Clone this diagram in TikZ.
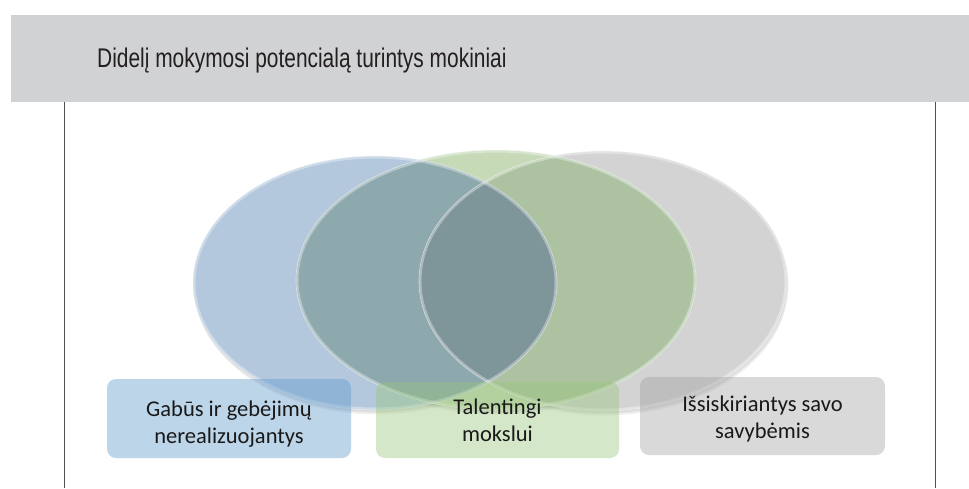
\documentclass[tikz,border=0pt]{standalone}
\usepackage{fontspec}
\setmainfont{Carlito}
\newfontfamily\titlefont[FakeStretch=0.775]{Liberation Sans}
\definecolor{bandgray}{HTML}{D1D2D4}
\definecolor{ellblue}{HTML}{B3C8DD}
\definecolor{ellgreen}{HTML}{C6DAB8}
\definecolor{ellgray}{HTML}{D3D3D3}
\definecolor{ovbg}{HTML}{A9B9C6}
\definecolor{ovgg}{HTML}{ACC2A0}
\definecolor{ovbgn}{HTML}{8EA9AE}
\definecolor{ovtri}{HTML}{7E9599}
\definecolor{boxblue}{HTML}{5A96CA}
\definecolor{boxgreen}{HTML}{96C578}
\definecolor{boxgray}{HTML}{A0A0A0}
\definecolor{linegray}{HTML}{505050}
\definecolor{titlecol}{HTML}{231F20}
\begin{document}
\begin{tikzpicture}[x=1pt,y=-1pt,
  boxstyle/.style={rounded corners=9pt, draw=none, inner sep=0pt, fill opacity=0.4},
  boxtext/.style={align=center, font=\fontsize{22.5}{27}\selectfont, text=black!90, inner sep=0pt},
  rimstyle/.style={white, line width=5pt, opacity=0.35},
  edgestyle/.style={white, line width=0.6pt, opacity=0.55},
  shadowstyle/.style={fill=black, opacity=0.05},
  frameline/.style={linegray, line width=1pt}]
\def\ellB{(375,283) ellipse [x radius=182pt, y radius=127pt]}
\def\ellG{(496,280) ellipse [x radius=200pt, y radius=130pt]}
\def\ellR{(603,281) ellipse [x radius=184pt, y radius=130pt]}
\useasboundingbox (0,0) rectangle (969,488);
\fill[white] (0,0) rectangle (969,488);
% header band
\fill[bandgray] (11,15) rectangle (969,102);
\node[anchor=base west, font=\titlefont\fontsize{27}{30}\selectfont, text=titlecol, inner sep=0pt] (title) at (97,67) {Didelį mokymosi potencialą turintys mokiniai};
% frame lines
\coordinate (lt) at (64,102);
\coordinate (lb) at (64,488);
\coordinate (rt) at (935,102);
\coordinate (rb) at (935,488);
\draw[frameline] (lt) -- (lb);
\draw[frameline] (rt) -- (rb);
% soft shadows
\foreach \dx/\dy in {0.5/1.5,1/3,1.5/4.5}{
  \begin{scope}[shift={(\dx,\dy)}]
    \fill[shadowstyle] \ellB; \fill[shadowstyle] \ellG; \fill[shadowstyle] \ellR;
  \end{scope}
}
% region fills
\fill[ellgray] \ellR;
\fill[ellblue] \ellB;
\begin{scope}\clip \ellB; \fill[ovbg] \ellR; \end{scope}
\fill[ellgreen] \ellG;
\begin{scope}\clip \ellG; \fill[ovgg] \ellR; \end{scope}
\begin{scope}\clip \ellG; \fill[ovbgn] \ellB; \end{scope}
\begin{scope}\clip \ellG; \clip \ellB; \fill[ovtri] \ellR; \end{scope}
% inner rims
\begin{scope}\clip \ellB; \draw[rimstyle] \ellB; \end{scope}
\begin{scope}\clip \ellG; \draw[rimstyle] \ellG; \end{scope}
\begin{scope}\clip \ellR; \draw[rimstyle] \ellR; \end{scope}
\draw[edgestyle] \ellB;
\draw[edgestyle] \ellG;
\draw[edgestyle] \ellR;
% boxes
\node[boxstyle, fill=boxblue, minimum width=244pt, minimum height=79pt] (box1) at (229,418.5) {};
\node[boxstyle, fill=boxgreen, minimum width=243pt, minimum height=76pt] (box2) at (497.5,420) {};
\node[boxstyle, fill=boxgray, minimum width=245pt, minimum height=78pt] (box3) at (762.5,416) {};
\node[boxtext, anchor=base] (t1) at (229,443) {Gabūs ir gebėjimų\\nerealizuojantys};
\node[boxtext, anchor=base] (t2) at (497.5,441) {Talentingi\\mokslui};
\node[boxtext, anchor=base] (t3) at (762.5,438) {Išsiskiriantys savo\\savybėmis};
\end{tikzpicture}
\end{document}
